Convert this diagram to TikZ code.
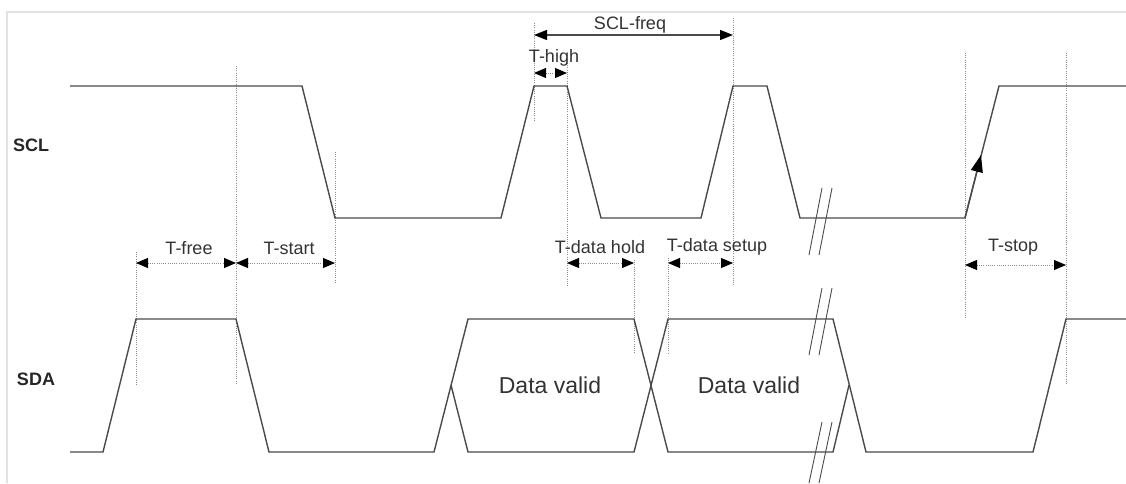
\documentclass[tikz,border=0pt]{standalone}
\usepackage{fontspec}
\setmainfont{Liberation Sans}
\usetikzlibrary{arrows.meta}

\definecolor{waveclr}{HTML}{4A4A4A}
\definecolor{guideclr}{HTML}{8C8C8C}
\definecolor{frameclr}{HTML}{E2E2E2}

\tikzset{
  wave/.style={draw=waveclr, line width=1.4pt, line join=miter},
  guide/.style={draw=guideclr, line width=0.9pt, dash pattern=on 1pt off 1.2pt},
  dimline/.style={draw=guideclr, line width=0.9pt, dash pattern=on 1pt off 1.2pt,
    {Triangle[length=12pt,width=10pt,black]}-{Triangle[length=12pt,width=10pt,black]}},
  breakmark/.style={draw=waveclr, line width=0.9pt},
  lbl/.style={font=\fontsize{18}{20}\selectfont, text=black!80, inner sep=0pt},
  sig/.style={font=\bfseries\fontsize{18}{20}\selectfont, text=black!85, inner sep=0pt},
  datalbl/.style={font=\fontsize{23}{26}\selectfont, text=black!80, inner sep=0pt}
}

\begin{document}
\begin{tikzpicture}[x=1pt,y=-1pt]
    \useasboundingbox (0,0) rectangle (1126,483);
    \draw[frameclr, line width=1.2pt] (7,483) -- (7,12) -- (1126,12);

    % signal names
    \node[sig] (scl) at (31,145) {SCL};
    \node[sig] (sda) at (36,379) {SDA};

    % guide lines
    \draw[guide] (236,66) -- (236,385);
    \draw[guide] (335,152) -- (335,283);
    \draw[guide] (136,252) -- (136,385);
    \draw[guide] (534,23) -- (534,120);
    \draw[guide] (567,63) -- (567,287);
    \draw[guide] (733,18) -- (733,285);
    \draw[guide] (634,260) -- (634,353);
    \draw[guide] (668,258) -- (668,353);
    \draw[guide] (965,53) -- (965,318);
    \draw[guide] (1066,53) -- (1066,385);

    % SCL
    \draw[wave] (70,86) -- (302,86) -- (335,218) -- (501,218) -- (534,86) -- (567,86)
        -- (601,218) -- (701,218) -- (733,86) -- (767,86) -- (800,218) -- (965,218)
        -- (999,86) -- (1126,86);
    \draw[wave, -{Triangle[length=17pt,width=12pt,black]}] (965,218) -- (981,155);

    % SDA
    \draw[wave] (70,452) -- (103,452) -- (136,319) -- (236,319) -- (269,452) -- (434,452)
        -- (468,319) -- (634,319) -- (668,452) -- (833,452) -- (849,385);
    \draw[wave] (451,385) -- (468,452) -- (634,452) -- (668,319) -- (833,319) -- (866,452)
        -- (1033,452) -- (1066,319) -- (1126,319);
    \node[datalbl] (valid1) at (550,385) {Data valid};
    \node[datalbl] (valid2) at (749,385) {Data valid};

    % breaks
    \foreach \ya/\yb in {188/255, 288/355, 422/483} {
        \draw[breakmark] (822,\ya) -- (809,\yb);
        \draw[breakmark] (832,\ya) -- (819,\yb);
    }

    % timing
    \draw[draw=waveclr, line width=1.2pt,
        {Triangle[length=13pt,width=10pt,black]}-{Triangle[length=13pt,width=10pt,black]}] (534,35) -- (733,35);
    \node[lbl] (freq) at (630,25) {SCL-freq};
    \draw[dimline] (534,73) -- (567,73);
    \node[lbl] (high) at (554,58) {T-high};
    \draw[dimline] (136,263) -- (236,263);
    \node[lbl] (free) at (189,248) {T-free};
    \draw[dimline] (236,263) -- (335,263);
    \node[lbl] (start) at (289,248) {T-start};
    \draw[dimline] (567,263) -- (634,263);
    \node[lbl] (hold) at (600,247) {T-data hold};
    \draw[dimline] (668,263) -- (733,263);
    \node[lbl] (setup) at (717,247) {T-data setup};
    \draw[dimline] (965,265) -- (1066,265);
    \node[lbl] (stop) at (1013,247) {T-stop};
\end{tikzpicture}
\end{document}
